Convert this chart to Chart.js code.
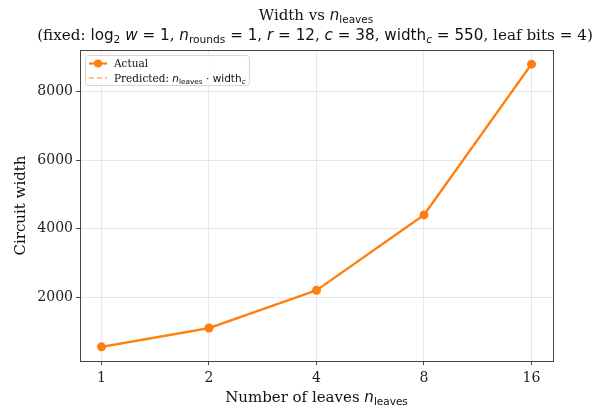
<!DOCTYPE html>
<html>
<head>
<meta charset="utf-8">
<script src="https://cdn.jsdelivr.net/npm/chart.js@4.4.1/dist/chart.umd.min.js"></script>
<style>
  html, body { margin: 0; padding: 0; background: #fff; }
  canvas { display: block; }
</style>
</head>
<body>
<canvas id="myChart" width="594" height="410"></canvas>
<script>
// number of leaves and measured / predicted circuit widths
const leaves = [1, 2, 4, 8, 16];
const actualWidth = [550, 1100, 2200, 4400, 8800];
const widthC = 550;
const predictedWidth = leaves.map(n => n * widthC);
const xTicks = [1, 2, 4, 8, 16];
const yTicks = [2000, 4000, 6000, 8000];

const SERIF = '"DejaVu Serif", serif';
const SANS = '"DejaVu Sans", sans-serif';
const ORANGE = '#ff7f0e';

// segments: [text, kind] where kind is serif | sans | it | sub | subit
function richText(ctx, segs, x, y, size, align) {
  const fontFor = k => {
    if (k === 'serif') return size + 'px ' + SERIF;
    if (k === 'sans') return size + 'px ' + SANS;
    if (k === 'it') return 'italic ' + size + 'px ' + SANS;
    if (k === 'sub') return (size * 0.7) + 'px ' + SANS;
    if (k === 'subit') return 'italic ' + (size * 0.7) + 'px ' + SANS;
  };
  let total = 0;
  const widths = segs.map(([t, k]) => {
    ctx.font = fontFor(k);
    const w = ctx.measureText(t).width;
    total += w;
    return w;
  });
  let cx = align === 'center' ? x - total / 2 : x;
  ctx.textBaseline = 'alphabetic';
  ctx.textAlign = 'left';
  segs.forEach(([t, k], i) => {
    ctx.font = fontFor(k);
    const dy = (k === 'sub' || k === 'subit') ? size * 0.22 : 0;
    ctx.fillText(t, cx, y + dy);
    cx += widths[i];
  });
  return total;
}

const decorations = {
  id: 'decorations',
  afterDraw(chart) {
    const ctx = chart.ctx;
    const a = chart.chartArea;
    ctx.save();

    // spines
    ctx.strokeStyle = '#444';
    ctx.lineWidth = 1;
    ctx.strokeRect(Math.round(a.left) + 0.5, Math.round(a.top) + 0.5,
      Math.round(a.right - a.left), Math.round(a.bottom - a.top));

    ctx.fillStyle = '#111';
    // title
    richText(ctx, [['Width vs ', 'serif'], ['n', 'it'], ['leaves', 'sub']], 316, 20, 15, 'center');
    richText(ctx, [
      ['(fixed: ', 'serif'], ['log', 'sans'], ['2', 'sub'], [' ', 'sans'], ['w', 'it'], [' = 1', 'sans'],
      [', ', 'serif'], ['n', 'it'], ['rounds', 'sub'], [' = 1', 'sans'],
      [', ', 'serif'], ['r', 'it'], [' = 12', 'sans'],
      [', ', 'serif'], ['c', 'it'], [' = 38', 'sans'],
      [', ', 'serif'], ['width', 'sans'], ['c', 'subit'], [' = 550', 'sans'],
      [', leaf bits = 4)', 'serif']
    ], 315, 40, 15.2, 'center');

    // axis titles
    richText(ctx, [['Number of leaves ', 'serif'], ['n', 'it'], ['leaves', 'sub']], (a.left + a.right) / 2, 402, 15, 'center');
    ctx.save();
    ctx.translate(25, (a.top + a.bottom) / 2);
    ctx.rotate(-Math.PI / 2);
    richText(ctx, [['Circuit width', 'serif']], 0, 0, 15, 'center');
    ctx.restore();

    // legend
    const lx = a.left + 5, ly = a.top + 5, lw = 164, lh = 30;
    ctx.fillStyle = 'rgba(255,255,255,0.85)';
    ctx.strokeStyle = '#d6d6d6';
    ctx.lineWidth = 1;
    ctx.beginPath();
    ctx.roundRect(lx + 0.5, ly + 0.5, lw, lh, 3);
    ctx.fill();
    ctx.stroke();

    const row1 = ly + 8.5, row2 = ly + 23;
    ctx.strokeStyle = ORANGE;
    ctx.lineWidth = 2.2;
    ctx.beginPath();
    ctx.moveTo(lx + 4, row1);
    ctx.lineTo(lx + 22, row1);
    ctx.stroke();
    ctx.fillStyle = ORANGE;
    ctx.beginPath();
    ctx.arc(lx + 13, row1, 4, 0, Math.PI * 2);
    ctx.fill();

    ctx.strokeStyle = 'rgba(255,127,14,0.5)';
    ctx.setLineDash([5, 3]);
    ctx.beginPath();
    ctx.moveTo(lx + 4, row2);
    ctx.lineTo(lx + 22, row2);
    ctx.stroke();
    ctx.setLineDash([]);

    ctx.fillStyle = '#111';
    richText(ctx, [['Actual', 'serif']], lx + 29, row1 + 3.5, 10.5, 'left');
    richText(ctx, [['Predicted: ', 'serif'], ['n', 'it'], ['leaves', 'sub'], [' \u00b7 ', 'sans'], ['width', 'sans'], ['c', 'subit']],
      lx + 29, row2 + 3.5, 10.5, 'left');

    ctx.restore();
  }
};

new Chart(document.getElementById('myChart').getContext('2d'), {
  type: 'line',
  data: {
    datasets: [
      {
        label: 'Actual',
        data: leaves.map((n, i) => ({ x: n, y: actualWidth[i] })),
        borderColor: ORANGE,
        backgroundColor: ORANGE,
        borderWidth: 2.3,
        pointRadius: 4.5,
        pointHoverRadius: 4.5,
        pointBorderWidth: 0,
        order: 0
      },
      {
        label: 'Predicted',
        data: leaves.map((n, i) => ({ x: n, y: predictedWidth[i] })),
        borderColor: 'rgba(255,127,14,0.5)',
        borderWidth: 2.2,
        borderDash: [5, 3],
        pointRadius: 0,
        order: 1
      }
    ]
  },
  options: {
    responsive: false,
    animation: false,
    devicePixelRatio: 1,
    layout: { padding: { top: 50, right: 41, left: 0, bottom: 0 } },
    plugins: { legend: { display: false }, tooltip: { enabled: false } },
    scales: {
      x: {
        type: 'logarithmic',
        min: Math.pow(2, -0.2),
        max: Math.pow(2, 4.2),
        afterBuildTicks: s => { s.ticks = xTicks.map(v => ({ value: v })); },
        afterFit: s => { s.height = 49; },
        ticks: {
          callback: v => String(v),
          font: { family: SERIF, size: 14 },
          color: '#222',
          padding: 5,
          maxRotation: 0,
          autoSkip: false
        },
        grid: { color: 'rgba(0,0,0,0.09)', lineWidth: 1, tickLength: 4, tickColor: '#444' },
        border: { color: '#444', width: 1 }
      },
      y: {
        min: 137.5,
        max: 9212.5,
        afterBuildTicks: s => { s.ticks = yTicks.map(v => ({ value: v })); },
        afterFit: s => { s.width = 80; },
        ticks: {
          callback: v => String(v),
          font: { family: SERIF, size: 14 },
          color: '#222',
          padding: 3
        },
        grid: { color: 'rgba(0,0,0,0.09)', lineWidth: 1, tickLength: 4, tickColor: '#444' },
        border: { color: '#444', width: 1 }
      }
    }
  },
  plugins: [decorations]
});
</script>
</body>
</html>
